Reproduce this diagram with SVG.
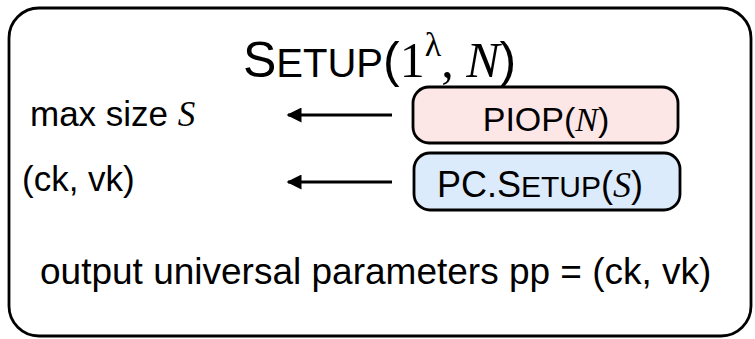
<svg xmlns="http://www.w3.org/2000/svg" width="755" height="339" viewBox="0 0 755 339">
<style>
  .sans { font-family: "Liberation Sans", Arial, sans-serif; fill: #000; }
  .serif { font-family: "Liberation Serif", "Times New Roman", serif; }
  .it { font-family: "Liberation Serif", "Times New Roman", serif; font-style: italic; }
  .box { stroke: #000; stroke-width: 2.8; }
  .conn { stroke: #000; stroke-width: 3; fill: none; }
</style>
<defs>
  <marker id="ah" viewBox="0 0 10 10" refX="9" refY="5" markerWidth="5.5" markerHeight="5" markerUnits="strokeWidth" orient="auto">
    <path d="M0,0 L10,5 L0,10 Z" fill="#000"/>
  </marker>
</defs>
<rect x="0" y="0" width="755" height="339" fill="#fff"/>
<g id="frame">
  <rect x="9" y="8" width="742" height="328" rx="30" ry="30" fill="#fff" class="box"/>
  <text class="sans" x="243" y="77" font-size="50">S<tspan font-size="40">ETUP</tspan>(<tspan class="serif">1</tspan><tspan class="serif" font-size="34" dy="-21">λ</tspan><tspan class="serif" dy="21">, </tspan><tspan class="it">N</tspan>)</text>
</g>
<g id="max-size">
  <text class="sans" x="30" y="126" font-size="35">max size <tspan class="it">S</tspan></text>
</g>
<g id="ck-vk">
  <text class="sans" x="22" y="191" font-size="35">(ck, vk)</text>
</g>
<g id="piop">
  <rect x="413" y="87" width="265" height="56" rx="16" ry="16" fill="#fde6e6" class="box"/>
  <text class="sans" x="546" y="131" font-size="34" text-anchor="middle">PIOP(<tspan class="it">N</tspan>)</text>
</g>
<g id="pc-setup">
  <rect x="414" y="153" width="266" height="57" rx="16" ry="16" fill="#dbebfb" class="box"/>
  <text class="sans" x="540" y="197" font-size="36" text-anchor="middle">PC.S<tspan font-size="30">ETUP</tspan>(<tspan class="it">S</tspan>)</text>
</g>
<g id="output">
  <text class="sans" x="40" y="284" font-size="37">output universal parameters pp = (ck, vk)</text>
</g>
<g id="connectors">
  <line x1="392" y1="115" x2="288" y2="115" class="conn" marker-end="url(#ah)"/>
  <line x1="392" y1="182" x2="288" y2="182" class="conn" marker-end="url(#ah)"/>
</g>
</svg>
